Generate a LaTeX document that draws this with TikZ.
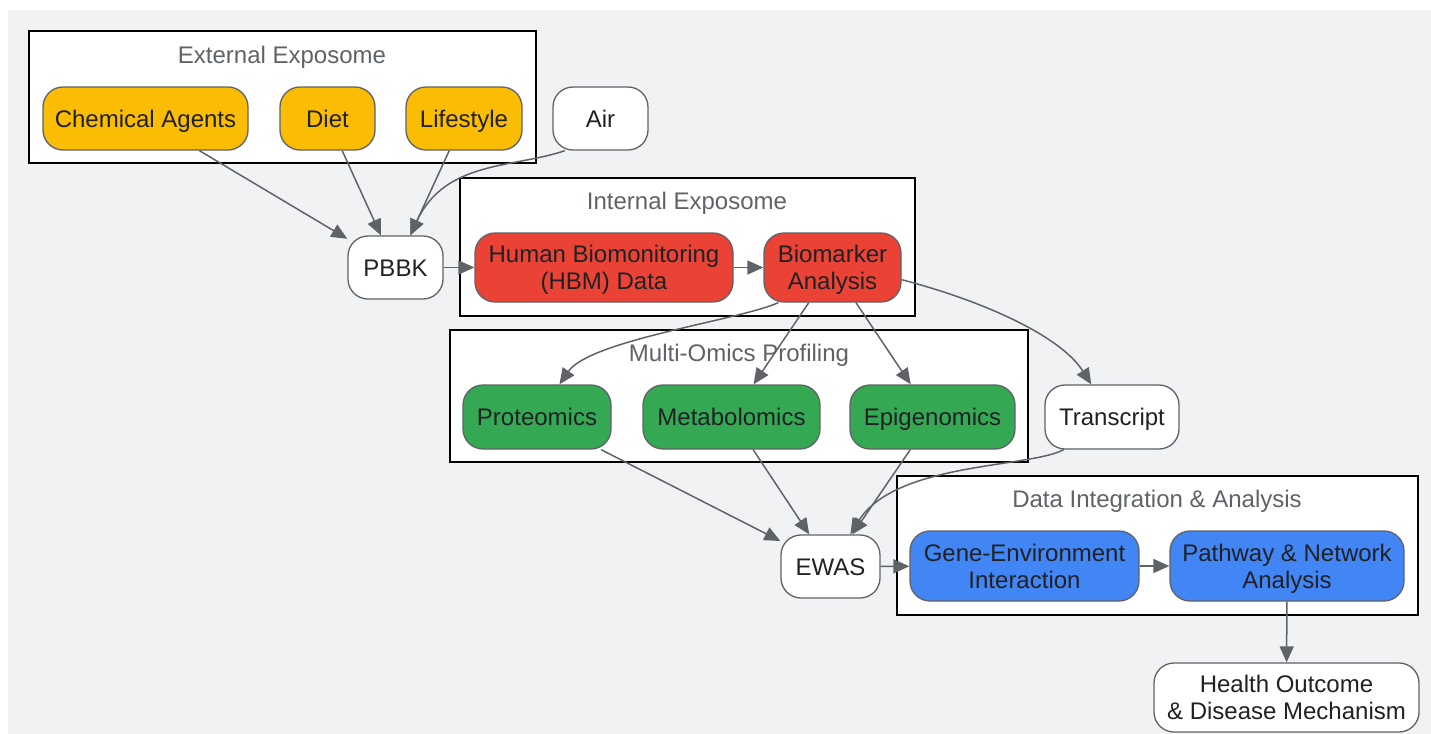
\documentclass[tikz,border=0pt]{standalone}
\usepackage{fontspec}
\setmainfont{Liberation Sans}
\usetikzlibrary{arrows.meta}
\definecolor{bgc}{HTML}{F1F2F4}
\definecolor{ygold}{HTML}{FBBC04}
\definecolor{rred}{HTML}{EA4335}
\definecolor{ggreen}{HTML}{34A853}
\definecolor{bblue}{HTML}{4285F4}
\definecolor{edgec}{HTML}{5F6368}
\definecolor{txtc}{HTML}{202124}
\definecolor{titc}{HTML}{5F6368}
\tikzset{
  box/.style={rounded corners=10pt, draw=edgec, line width=0.65pt, inner sep=0pt, align=center,
    font=\fontsize{12}{13.5}\selectfont, text=txtc},
  one/.style={text height=8.7pt, text depth=0pt},
  two/.style={text depth=0pt},
  ybox/.style={box, fill=ygold},
  rbox/.style={box, fill=rred},
  gbox/.style={box, fill=ggreen},
  bbox/.style={box, fill=bblue},
  wbox/.style={box, fill=white},
  cluster/.style={draw=black, line width=0.9pt, fill=white},
  ctitle/.style={font=\fontsize{12}{13.5}\selectfont, text=titc, inner sep=0pt, text height=8.7pt, text depth=0pt},
  conn/.style={draw=edgec, line width=0.75pt, -{Triangle[length=8pt,width=7pt]}}
}
\begin{document}
\begin{tikzpicture}[x=0.5pt,y=-0.5pt]
\useasboundingbox (0,0) rectangle (1431,734);
\fill[bgc] (8,10) rectangle (1431,734);
% clusters
\draw[cluster] (29,31) rectangle (536,163);
\node[ctitle] (t1) at (282,55) {External Exposome};
\draw[cluster] (460,178) rectangle (915,316);
\node[ctitle] (t2) at (687,201) {Internal Exposome};
\draw[cluster] (450,330) rectangle (1028,462);
\node[ctitle] (t3) at (739,353) {Multi-Omics Profiling};
\draw[cluster] (897,476) rectangle (1418,615);
\node[ctitle] (t4) at (1157,499) {Data Integration \& Analysis};
% nodes
\node[ybox, one, minimum width=102.5pt, minimum height=31.5pt] (chem) at (145.5,118.5) {Chemical Agents};
\node[ybox, one, minimum width=47.5pt, minimum height=31.5pt] (diet) at (327.5,118.5) {Diet};
\node[ybox, one, minimum width=58pt, minimum height=31.5pt] (life) at (464,118.5) {Lifestyle};
\node[wbox, one, minimum width=47.5pt, minimum height=31.5pt] (air) at (600.5,118.5) {Air};
\node[wbox, one, minimum width=47.5pt, minimum height=31.5pt] (pbbk) at (395.5,267.5) {PBBK};
\node[rbox, two, minimum width=129pt, minimum height=34.5pt] (hbm) at (604,267.5) {Human Biomonitoring\\(HBM) Data};
\node[rbox, two, minimum width=68.5pt, minimum height=34.5pt] (bio) at (832.5,267.5) {Biomarker\\Analysis};
\node[gbox, one, minimum width=74pt, minimum height=32pt] (prot) at (537,417) {Proteomics};
\node[gbox, one, minimum width=88.5pt, minimum height=32pt] (metab) at (731.5,417) {Metabolomics};
\node[gbox, one, minimum width=82.5pt, minimum height=32pt] (epi) at (932.5,417) {Epigenomics};
\node[wbox, one, minimum width=67pt, minimum height=32pt] (trans) at (1112,417) {Transcript};
\node[wbox, one, minimum width=49.5pt, minimum height=31.5pt] (ewas) at (830.5,566.5) {EWAS};
\node[bbox, two, minimum width=114.5pt, minimum height=35pt] (gene) at (1024.5,566) {Gene-Environment\\Interaction};
\node[bbox, two, minimum width=117pt, minimum height=35pt] (path) at (1287,566) {Pathway \& Network\\Analysis};
\node[wbox, two, minimum width=132.5pt, minimum height=34.5pt] (health) at (1286.5,697.5) {Health Outcome\\\& Disease Mechanism};
% connectors
\draw[conn] (chem) -- (pbbk);
\draw[conn] (diet) -- (pbbk);
\draw[conn] (life) -- (pbbk);
\draw[conn] (air.222) .. controls (515,168) and (445,160) .. (pbbk);
\draw[conn] (pbbk) -- (hbm);
\draw[conn] (hbm) -- (bio);
\draw[conn] (bio.213) .. controls (740,320) and (590,340) .. (prot);
\draw[conn] (bio) -- (metab);
\draw[conn] (bio) -- (epi);
\draw[conn] (bio.-10) .. controls (980,300) and (1060,335) .. (trans);
\draw[conn] (prot) -- (ewas);
\draw[conn] (metab) -- (ewas);
\draw[conn] (epi) -- (ewas);
\draw[conn] (trans.214) .. controls (1030,468) and (895,462) .. (ewas);
\draw[conn] (ewas) -- (gene);
\draw[conn] (gene) -- (path);
\draw[conn] (path) -- (health);
\end{tikzpicture}
\end{document}
